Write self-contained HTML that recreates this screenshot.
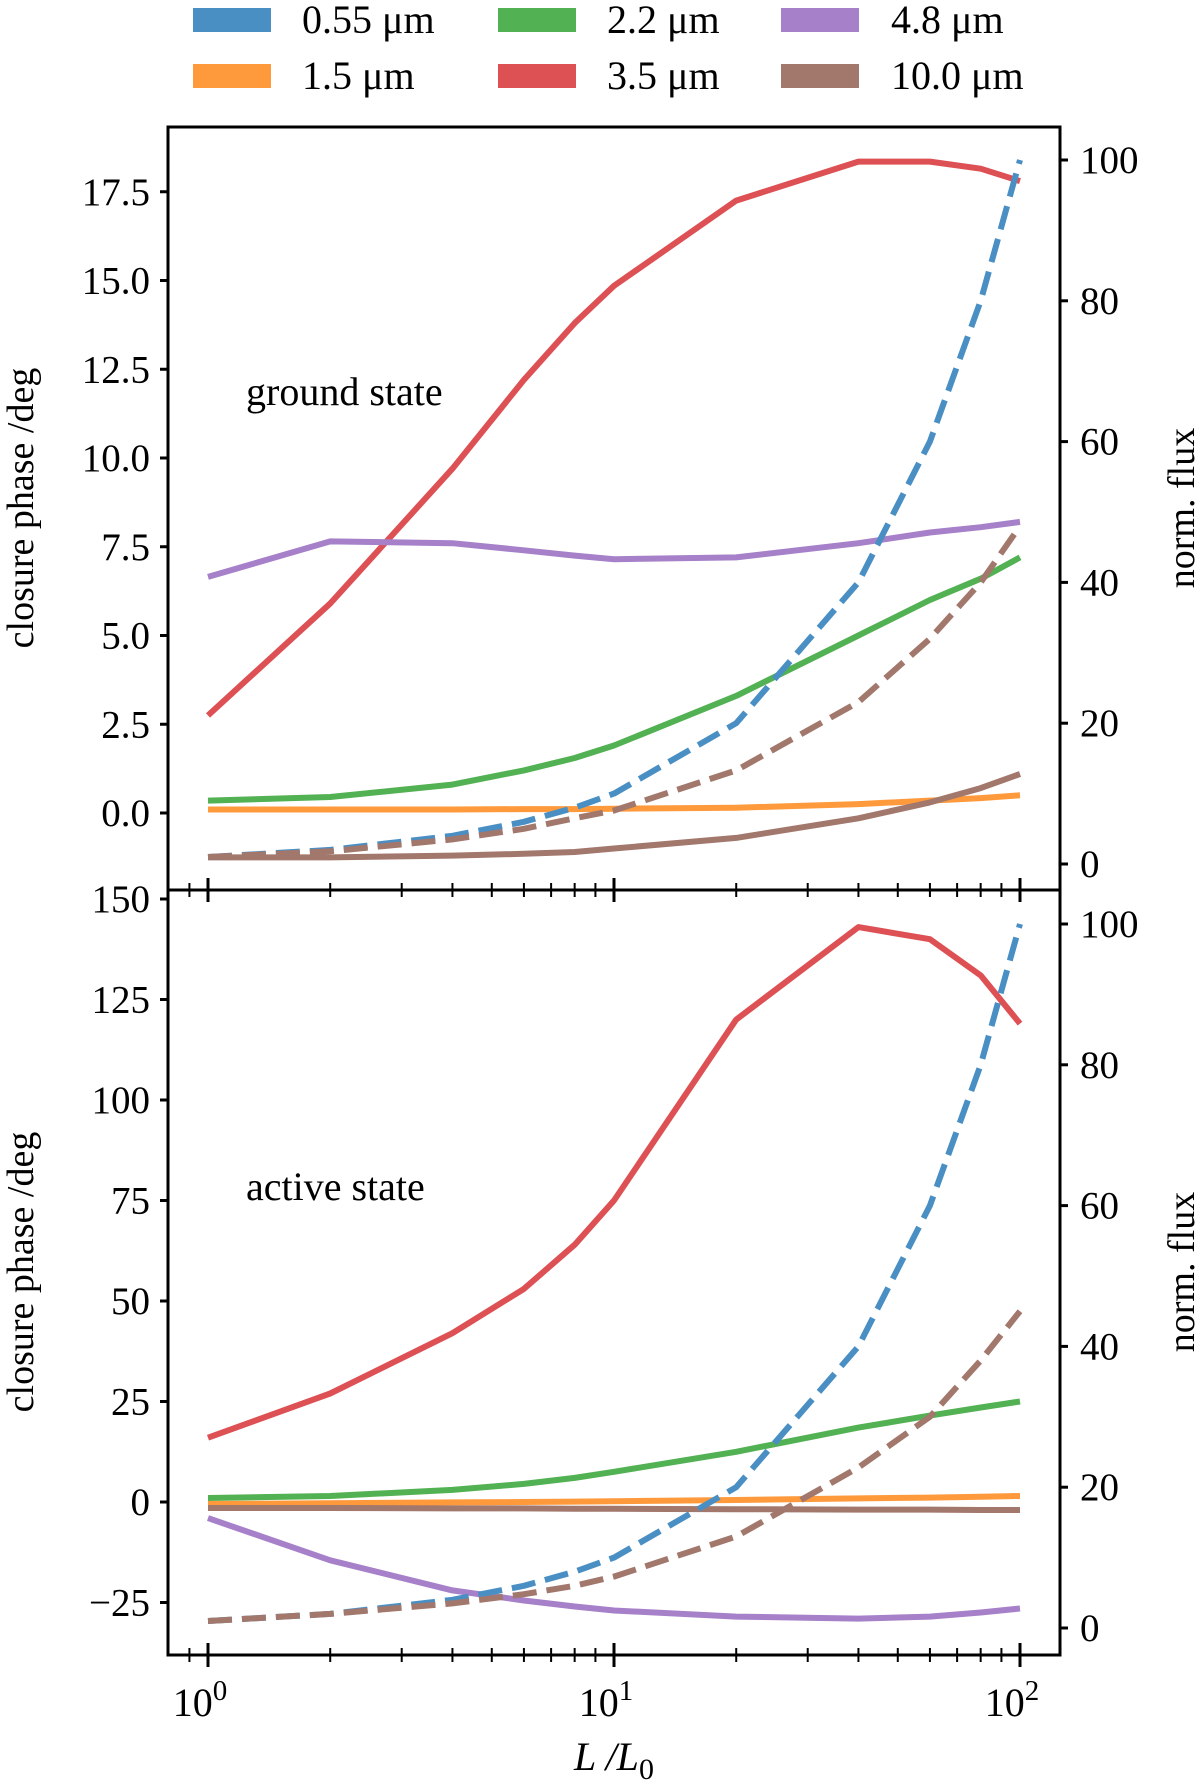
<!DOCTYPE html>
<html><head><meta charset="utf-8"><style>
body{margin:0;background:#fff}
svg{font-family:"Liberation Serif","DejaVu Serif",serif}
</style></head><body>
<svg id="c" width="1200" height="1785" xmlns="http://www.w3.org/2000/svg">
<defs>
<clipPath id="cpTop"><rect x="168" y="127" width="892" height="763"/></clipPath>
<clipPath id="cpBot"><rect x="168" y="890" width="892" height="765"/></clipPath>
</defs>
</svg>
<script>
const xs = [1,2,4,6,8,10,20,40,60,80,100];
// top panel (ground state), closure phase in deg
const topRed    = [2.75,5.9,9.7,12.2,13.8,14.85,17.25,18.35,18.35,18.15,17.8];
const topPurple = [6.65,7.65,7.6,7.4,7.25,7.15,7.2,7.6,7.9,8.05,8.2];
const topGreen  = [0.35,0.45,0.8,1.2,1.55,1.9,3.3,5.0,6.0,6.6,7.2];
const topOrange = [0.1,0.1,0.1,0.11,0.11,0.12,0.15,0.25,0.35,0.42,0.5];
const topBrown  = [-1.25,-1.25,-1.2,-1.15,-1.1,-1.0,-0.7,-0.15,0.3,0.7,1.1];
// top panel norm. flux (dashed)
const topBlueFlux  = [1,2,4,6,8,10,20,40,60,80,100];
const topBrownFlux = [1,1.8,3.5,5,6.5,7.6,13.3,23,32,40,48];
// bottom panel (active state)
const botRed    = [16,27,42,53,64,75,120,143,140,131,119];
const botGreen  = [1,1.5,3,4.5,6,7.5,12.5,18.5,21.5,23.5,25];
const botOrange = [-0.5,-0.3,-0.1,0,0.1,0.2,0.5,0.9,1.1,1.3,1.5];
const botBrown  = [-1.5,-1.5,-1.6,-1.6,-1.7,-1.7,-1.8,-1.9,-1.9,-2,-2];
const botPurple = [-4,-14.5,-22,-24.5,-26,-27,-28.5,-29,-28.5,-27.5,-26.5];
const botBlueFlux  = [1,2,4,6,8,10,20,40,60,80,100];
const botBrownFlux = [1,2,3.5,4.8,6,7.3,13,22.8,30,38,45];
// ticks
const topLeftTicks = [0,2.5,5,7.5,10,12.5,15,17.5];
const botLeftTicks = [-25,0,25,50,75,100,125,150];
const rightTicks = [0,20,40,60,80,100];
const legendLabels = ["0.55 μm","1.5 μm","2.2 μm","3.5 μm","4.8 μm","10.0 μm"];

const C = {blue:"#4a8fc4",orange:"#ff9a3c",green:"#52b152",red:"#dd5054",purple:"#a680c8",brown:"#a2776c"};
const NS="http://www.w3.org/2000/svg";
const svg=document.getElementById('c');
function el(t,a,p){const e=document.createElementNS(NS,t);for(const k in a)e.setAttribute(k,a[k]);(p||svg).appendChild(e);return e;}

const X = v => 208 + (Math.log10(v))*406;
const topY = v => 813 - v*35.5;
const topR = v => 864 - v*7.04;
const botY = v => 1502 - v*4.02;
const botR = v => 1628 - v*7.04;

function line(vals, sx, sy, color, dashed, clip, name){
  const d = vals.map((v,i)=>(i?'L':'M')+sx(xs[i]).toFixed(1)+' '+sy(v).toFixed(1)).join(' ');
  const a={d:d,fill:'none',stroke:color,'stroke-width':6,'stroke-linejoin':'round','clip-path':'url(#'+clip+')'};
  if(dashed) a['stroke-dasharray']='24 10';
  const p=el('path',a);
  
  
}
line(topRed,X,topY,C.red,false,'cpTop','top-line-3-5um');
line(topPurple,X,topY,C.purple,false,'cpTop','top-line-4-8um');
line(topGreen,X,topY,C.green,false,'cpTop','top-line-2-2um');
line(topOrange,X,topY,C.orange,false,'cpTop','top-line-1-5um');
line(topBrown,X,topY,C.brown,false,'cpTop','top-line-10um');
line(topBlueFlux,X,topR,C.blue,true,'cpTop','top-flux-0-55um');
line(topBrownFlux,X,topR,C.brown,true,'cpTop','top-flux-10um');
line(botRed,X,botY,C.red,false,'cpBot','bottom-line-3-5um');
line(botGreen,X,botY,C.green,false,'cpBot','bottom-line-2-2um');
line(botOrange,X,botY,C.orange,false,'cpBot','bottom-line-1-5um');
line(botBrown,X,botY,C.brown,false,'cpBot','bottom-line-10um');
line(botPurple,X,botY,C.purple,false,'cpBot','bottom-line-4-8um');
line(botBlueFlux,X,botR,C.blue,true,'cpBot','bottom-flux-0-55um');
line(botBrownFlux,X,botR,C.brown,true,'cpBot','bottom-flux-10um');

// frames
const f1=el('rect',{x:168,y:127,width:892,height:763,fill:'none',stroke:'#000','stroke-width':3});


const f2=el('rect',{x:168,y:890,width:892,height:765,fill:'none',stroke:'#000','stroke-width':3});



function txt(x,y,s,anchor,size,name,extra){
  const t=el('text',Object.assign({x:x,y:y,'text-anchor':anchor,'font-size':size,fill:'#000'},extra||{}));
  t.textContent=s;
  
  
  return t;
}
function yTicks(ticks, sy, left, name){
  ticks.forEach(v=>{
    const y=sy(v);
    if(left){
      el('line',{x1:160,x2:168,y1:y,y2:y,stroke:'#000','stroke-width':3});
      const lab = v<0 ? '\u2212'+Math.abs(v) : (Number.isInteger(v)&&name==='top'? v.toFixed(1): String(v));
      txt(150,y+13,lab,'end',39,name+'-y-tick-label',{'textLength':'','lengthAdjust':'spacingAndGlyphs'});
    } else {
      el('line',{x1:1060,x2:1068,y1:y,y2:y,stroke:'#000','stroke-width':3});
      txt(1080,y+13,String(v),'start',39,name+'-right-tick-label');
    }
  });
}
yTicks(topLeftTicks,topY,true,'top');
yTicks(botLeftTicks,botY,true,'bottom');
yTicks(rightTicks,topR,false,'top');
yTicks(rightTicks,botR,false,'bottom');

// x ticks
const minors=[];
[0.8,0.9].forEach(v=>minors.push(v));
for(let d=1;d<=10;d*=10)for(let k=2;k<=9;k++)minors.push(k*d);
function xTicks(y){
  [1,10,100].forEach(v=>el('line',{x1:X(v),x2:X(v),y1:y-12,y2:y+12,stroke:'#000','stroke-width':3}));
  minors.forEach(v=>{const x=X(v); if(x>169&&x<1059) el('line',{x1:x,x2:x,y1:y-7,y2:y+7,stroke:'#000','stroke-width':2});});
}
xTicks(890); xTicks(1655);
[[1,'0'],[10,'1'],[100,'2']].forEach(([v,e])=>{
  const t=txt(X(v)-8,1716,'10','middle',40,'x-tick-label');
  const s=el('tspan',{dy:-16,'font-size':29},t); s.textContent=e;
});
const xl=txt(614,1770,'','middle',40,'x-axis-title',{'font-style':'italic'});
xl.textContent='L /L'; const sub=el('tspan',{dy:9,'font-size':30,'font-style':'normal'},xl); sub.textContent='0';

txt(33,508,'closure phase /deg','middle',38,'top-y-axis-title',{transform:'rotate(-90 33 508)'});
txt(33,1272,'closure phase /deg','middle',38,'bottom-y-axis-title',{transform:'rotate(-90 33 1272)'});
txt(1194,508,'norm. flux','middle',38,'top-right-axis-title',{transform:'rotate(-90 1194 508)'});
txt(1194,1272,'norm. flux','middle',38,'bottom-right-axis-title',{transform:'rotate(-90 1194 1272)'});
txt(246,405,'ground state','start',40,'ground-state-label');
txt(246,1200,'active state','start',40,'active-state-label');

// legend
const legColors=[C.blue,C.orange,C.green,C.red,C.purple,C.brown];
const colX=[193,498,781], textX=[302,607,891], rowY=[20,76];
legendLabels.forEach((s,i)=>{
  const c=Math.floor(i/2), r=i%2;
  const sw=el('rect',{x:colX[c],y:rowY[r]-12,width:78,height:24,fill:legColors[i]});
  
  
  txt(textX[c],rowY[r]+13,s,'start',40,'legend-entry');
});
</script>
</body></html>
